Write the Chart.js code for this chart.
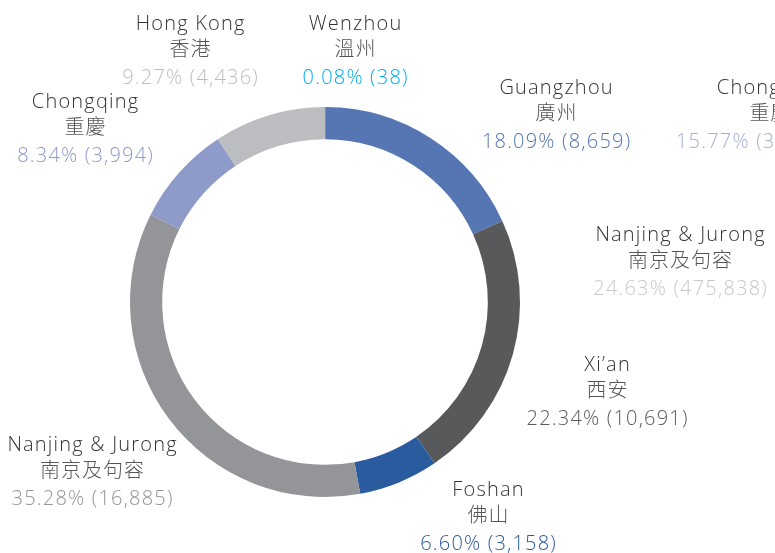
<!DOCTYPE html>
<html><head><meta charset="utf-8">
<script src="https://cdn.jsdelivr.net/npm/chart.js@4.4.0/dist/chart.umd.min.js"></script>
<style>html,body{margin:0;padding:0;background:#fff;}#wrap{width:775px;height:553px;position:relative;}</style>
</head><body><div id="wrap"><canvas id="c" width="775" height="553"></canvas></div>
<script>
// Data
const categories = ["Wenzhou","Guangzhou","Xi\u2019an","Foshan","Nanjing & Jurong","Chongqing","Hong Kong"];
const categoriesZh = ["溫州","廣州","西安","佛山","南京及句容","重慶","香港"];
const values = [38, 8659, 10691, 3158, 16885, 3994, 4436];
const percents = ["0.08%","18.09%","22.34%","6.60%","35.28%","8.34%","9.27%"];
const colors = ["#00aeef","#5576b3","#58595b","#2b5b9f","#939598","#8e9ac8","#bcbdc0"];
const pctColors = ["#00aeef","#5576b3","#58595b","#2b5b9f","#939598","#8e9ac8","#bcbdc0"];
// Extra overlapping labels visible in the picture (right one cut by the edge)
const ghostNames = ["Chongqing","Nanjing & Jurong"];
const ghostZh = ["重慶","南京及句容"];
const ghostPct = ["15.77%","24.63%"];
const ghostVals = ["(3","(475,838)"];
const ghostColors = ["#a5aed6","#c8c9cb"];

// Layout (label anchor centres), not data
const labelPos = [[355,24],[556,88],[607,365],[488,490],[92,445],[85,102],[190,24]];
const ghostPos = [[770,88],[680,235]];
const ghostPctLeft = [676, null];

const fmt = n => n.toLocaleString('en-US');
const FONT = '300 20px "Open Sans", Lato, sans-serif';
const ZHFONT = '300 20px "Noto Sans CJK TC", sans-serif';

function drawLabel(ctx, x, y, name, zh, pctText, pc, pctLeft){
  ctx.textBaseline='middle';
  const put=(t,font,color,ls,yy,left)=>{
    ctx.font=font; ctx.fillStyle=color; ctx.letterSpacing=ls+'px'; ctx.textAlign='left';
    const w=ctx.measureText(t).width - ls;
    ctx.fillText(t,left!=null?left:x-w/2,yy);
  };
  put(name,FONT,'#333333',1.2,y);
  put(zh,ZHFONT,'#555555',1,y+24);
  put(pctText,FONT,pc,1.2,y+54,pctLeft);
}

const labelPlugin = {
  id:'labels',
  afterDraw(chart){
    const ctx=chart.ctx; ctx.save();
    categories.forEach((c,i)=>{
      const [x,y]=labelPos[i];
      drawLabel(ctx,x,y,c,categoriesZh[i],percents[i]+' ('+fmt(values[i])+')',pctColors[i],null);
    });
    ghostNames.forEach((c,i)=>{
      const [x,y]=ghostPos[i];
      drawLabel(ctx,x,y,c,ghostZh[i],ghostPct[i]+' '+ghostVals[i],ghostColors[i],ghostPctLeft[i]);
    });
    ctx.restore();
  }
};

new Chart(document.getElementById('c'),{
  type:'doughnut',
  data:{labels:categories,datasets:[{data:values,backgroundColor:colors,borderWidth:0}]},
  options:{
    responsive:false,animation:false,cutout:'83.5%',rotation:0,
    layout:{padding:{left:130,right:255,top:107,bottom:56}},
    plugins:{legend:{display:false},tooltip:{enabled:false}}
  },
  plugins:[labelPlugin]
});
</script></body></html>
